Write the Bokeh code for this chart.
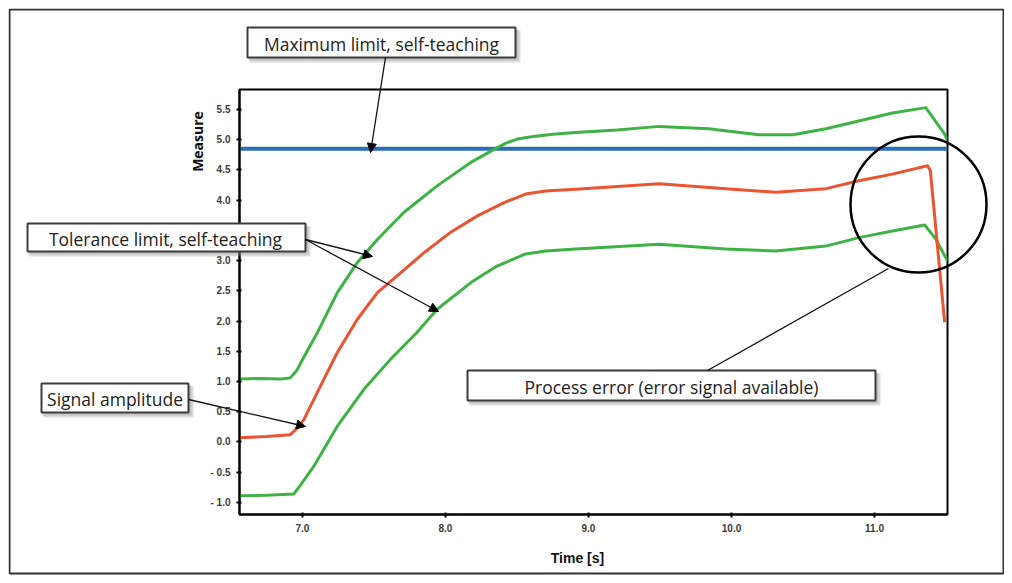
import numpy as np
from bokeh.plotting import figure
from bokeh.models import (Range1d, FixedTicker, Arrow, NormalHead, Span,
                          NumeralTickFormatter)
from bokeh.core.properties import value
from bokeh.embed import file_html
from bokeh.resources import INLINE

# ---------------- data ----------------
time_upper = [6.56, 6.70, 6.85, 6.915, 6.96, 7.0, 7.105, 7.244, 7.384, 7.524, 7.71, 7.944,
              8.174, 8.34, 8.42, 8.503, 8.60, 8.75, 8.91, 9.20, 9.494, 9.84, 10.19, 10.43,
              10.66, 10.89, 11.125, 11.358, 11.49, 11.51]
upper_tolerance = [1.04, 1.05, 1.04, 1.06, 1.18, 1.36, 1.81, 2.47, 2.97, 3.35, 3.80, 4.24,
                   4.62, 4.84, 4.94, 5.01, 5.05, 5.09, 5.12, 5.16, 5.22, 5.18, 5.08, 5.08,
                   5.18, 5.31, 5.44, 5.53, 5.09, 5.00]

time_signal = [6.56, 6.75, 6.915, 6.96, 7.01, 7.15, 7.244, 7.384, 7.524, 7.664, 7.85, 8.037,
               8.223, 8.41, 8.56, 8.70, 8.91, 9.494, 9.96, 10.31, 10.66, 10.89, 11.125,
               11.37, 11.39, 11.49]
signal_amplitude = [0.07, 0.09, 0.12, 0.22, 0.37, 1.04, 1.48, 2.03, 2.47, 2.75, 3.13, 3.47,
                    3.74, 3.96, 4.10, 4.15, 4.18, 4.27, 4.19, 4.13, 4.19, 4.32, 4.43,
                    4.57, 4.49, 1.98]

time_lower = [6.56, 6.75, 6.94, 6.99, 7.08, 7.244, 7.43, 7.617, 7.80, 7.944, 8.18, 8.36,
              8.56, 8.70, 8.91, 9.494, 9.96, 10.31, 10.66, 10.89, 11.125, 11.35, 11.43,
              11.49, 11.51]
lower_tolerance = [-0.89, -0.88, -0.86, -0.70, -0.40, 0.26, 0.87, 1.37, 1.81, 2.20, 2.64,
                   2.91, 3.11, 3.16, 3.19, 3.27, 3.19, 3.16, 3.24, 3.38, 3.49, 3.59, 3.35,
                   3.08, 3.00]

max_limit = 4.85

x_ticks = [7.0, 8.0, 9.0, 10.0, 11.0]
y_ticks = [-1.0, -0.5, 0.0, 0.5, 1.0, 1.5, 2.0, 2.5, 3.0, 3.5, 4.0, 4.5, 5.0, 5.5]
y_label_overrides = {-1.0: "- 1.0", -0.5: "- 0.5"}

x_label = "Time [s]"
y_label = "Measure"
note_texts = ["Maximum limit, self-teaching", "Tolerance limit, self-teaching",
              "Signal amplitude", "Process error (error signal available)"]

# ---------------- layout ----------------
W, H = 996, 567
FL, FR, FT, FB = 239, 947, 89, 514          # frame edges in canvas pixels
X0, X1, Y0, Y1 = 6.56, 11.51, -1.20, 5.83

p = figure(width=W, height=H, x_range=Range1d(X0, X1), y_range=Range1d(Y0, Y1),
           output_backend="svg", toolbar_location=None,
           min_border_left=FL, min_border_right=W - FR,
           min_border_top=FT, min_border_bottom=H - FB)
p.grid.visible = False
p.outline_line_color = "black"
p.outline_line_width = 2
p.background_fill_color = "white"
p.border_fill_color = "white"

for ax in (p.xaxis[0], p.yaxis[0]):
    ax.axis_line_width = 2
    ax.axis_line_color = "black"
    ax.major_tick_line_width = 2
    ax.major_tick_out = 3
    ax.major_tick_in = 2
    ax.minor_tick_line_color = None
    ax.major_label_text_font = "Liberation Sans"
    ax.major_label_text_font_style = "bold"
    ax.major_label_text_font_size = "10px"
    ax.major_label_text_color = "#3a3a3a"
    ax.major_label_standoff = 6
    ax.formatter = NumeralTickFormatter(format="0.0")
p.xaxis[0].ticker = FixedTicker(ticks=x_ticks)
p.yaxis[0].ticker = FixedTicker(ticks=y_ticks)
p.yaxis[0].major_label_overrides = y_label_overrides

green = "#3fb246"
red = "#ea5430"
blue = "#2a6fb6"
p.add_layout(Span(location=max_limit, dimension="width", line_color=blue, line_width=4,
                  level="underlay"))
p.line(time_upper, upper_tolerance, line_color=green, line_width=3, line_join="round")
p.line(time_lower, lower_tolerance, line_color=green, line_width=3, line_join="round")
p.line(time_signal, signal_amplitude, line_color=red, line_width=3, line_join="round")

# ---------------- overlay for the callouts (canvas pixel space) ----------------
o = figure(width=W, height=H, x_range=Range1d(0, W), y_range=Range1d(H, 0),
           output_backend="svg", toolbar_location=None, min_border=0,
           x_axis_location=None, y_axis_location=None)
o.grid.visible = False
o.outline_line_color = None
o.background_fill_alpha = 0
o.border_fill_alpha = 0
o.styles = {"position": "absolute", "left": "8px", "top": "8px"}

def c(xp, yp):           # page pixel -> canvas pixel
    return xp - 8, yp - 8

# boxes: left, top, right, bottom (page px) and text centre x
boxes = [(247, 27, 515, 57, 381), (27, 223, 305, 251, 165),
         (41, 383, 188, 412, 114.5), (467, 370, 875, 400, 671)]

def arrow(x1, y1, x2, y2, head=True):
    a, b = c(x1, y1)
    e, f = c(x2, y2)
    end = NormalHead(size=9, fill_color="black", line_color="black") if head else None
    o.add_layout(Arrow(end=end, x_start=a, y_start=b, x_end=e, y_end=f,
                       line_color="#111111", line_width=1.3))

arrow(385, 57, 370, 152)
arrow(305, 239, 372, 256)
arrow(305, 239, 438, 311)
arrow(188, 399, 305, 426)
arrow(707, 370, 888, 268, head=False)

L = [b[0] - 8 for b in boxes]
T = [b[1] - 8 for b in boxes]
R = [b[2] - 8 for b in boxes]
B = [b[3] - 8 for b in boxes]
o.quad(left=[v + 2 for v in L], right=[v + 5 for v in R], top=[v + 3 for v in T],
       bottom=[v + 5 for v in B], fill_color="#8a8a8a", fill_alpha=0.30, line_color=None)
o.quad(left=[v + 1 for v in L], right=[v + 3 for v in R], top=[v + 2 for v in T],
       bottom=[v + 3 for v in B], fill_color="#8a8a8a", fill_alpha=0.30, line_color=None)
o.quad(left=L, right=R, top=T, bottom=B, fill_color="white", line_color="#3c3c3c",
       line_width=2)
o.text(x=[b[4] - 8 for b in boxes], y=[(t + bb) / 2 + 1 for t, bb in zip(T, B)],
       text=note_texts, text_align="center", text_baseline="middle",
       text_font=value("Open Sans"), text_font_size="17.5px", text_color="#222222")

cx, cy = c(918, 204)
o.circle(x=[cx], y=[cy], radius=68, fill_alpha=0, line_color="black", line_width=2.5)

tx, ty = c(577, 557)
o.text(x=[tx], y=[ty], text=[x_label], text_align="center", text_baseline="middle",
       text_font=value("Liberation Sans"), text_font_style="bold", text_font_size="14px",
       text_color="#111111")
mx, my = c(197, 141)
o.text(x=[mx], y=[my], text=[y_label], angle=np.pi / 2, text_align="center",
       text_baseline="middle", text_font=value("Open Sans"), text_font_style="bold",
       text_font_size="14px", text_color="#111111")

# outer frame of the whole picture
o.quad(left=[1], right=[W - 1], top=[1], bottom=[H - 2], fill_alpha=0,
       line_color="#333333", line_width=2)

open("out.html", "w").write(file_html([p, o], INLINE))
